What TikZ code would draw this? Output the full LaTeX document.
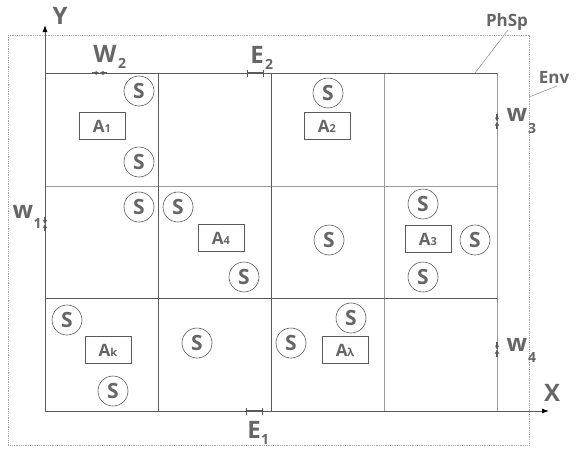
\documentclass[tikz,border=0pt]{standalone}
\usepackage{fontspec}
\setmainfont{Open Sans}
\usetikzlibrary{arrows.meta}
\definecolor{txt}{HTML}{666666}
\definecolor{linec}{HTML}{5A5A5A}
\definecolor{lightl}{HTML}{9A9A9A}
\definecolor{envc}{HTML}{A8A8A8}
\tikzset{
  lbl/.style={text=txt, font=\fontsize{24}{24}\selectfont\bfseries, inner sep=0pt},
  sublbl/.style={text=txt, font=\fontsize{14}{14}\selectfont\bfseries, inner sep=0pt},
  smalllbl/.style={text=txt, font=\fontsize{17}{17}\selectfont\bfseries, inner sep=0pt},
  scirc/.style={circle, draw=linec, line width=0.6pt, fill=white, minimum size=30pt, inner sep=0pt, text=txt, font=\fontsize{21}{21}\selectfont\bfseries},
  abox/.style={draw=linec, line width=0.6pt, fill=white, minimum width=46pt, minimum height=27pt, inner sep=0pt, text=txt, font=\fontsize{17}{17}\selectfont\bfseries},
  gridl/.style={draw=linec, line width=0.8pt},
  gridlight/.style={draw=lightl, line width=0.8pt},
  axisl/.style={draw=linec, line width=0.9pt, -{Latex[length=7pt,width=5pt,black]}},
  envbox/.style={draw=envc, line width=0.8pt, densely dotted},
  leader/.style={draw=lightl, line width=0.6pt},
  pinch/.style={draw=linec, line width=1.2pt, -{Triangle[length=4pt,width=4pt]}},
  barmark/.style={draw=linec, line width=1.8pt},
  barend/.style={draw=linec, line width=1pt},
}
\newcommand{\sub}[1]{{\fontsize{11}{11}\selectfont #1}}
\begin{document}
\begin{tikzpicture}[x=1pt,y=-1pt]
\useasboundingbox (0,0) rectangle (579,450);
% environment box
\draw[envbox] (8,35) rectangle (529,445);
% grid
\draw[gridlight] (45,186) -- (497,186);
\draw[gridlight] (384,73) -- (384,411);
\draw[gridlight] (497,73) -- (497,411);
\draw[gridl] (45,298) -- (497,298);
\draw[gridl] (158,73) -- (158,411);
\draw[gridl] (271,73) -- (271,411);
\draw[gridl] (45,73) -- (497,73);
% axes
\coordinate (O) at (45,411);
\coordinate (yend) at (45,25);
\coordinate (xend) at (549,411);
\draw[axisl] (O) -- (yend);
\draw[axisl] (O) -- (xend);
\node[lbl] (Y) at (60,16) {Y};
\node[lbl] (X) at (552,393) {X};
% circles S
\node[scirc] (s1) at (139,91) {S};
\node[scirc] (s2) at (139,162) {S};
\node[scirc] (s3) at (139,207) {S};
\node[scirc] (s4) at (178,207) {S};
\node[scirc] (s5) at (244,277) {S};
\node[scirc] (s6) at (329,240) {S};
\node[scirc] (s7) at (328,93) {S};
\node[scirc] (s8) at (423,204) {S};
\node[scirc] (s9) at (475,240) {S};
\node[scirc] (s10) at (423,277) {S};
\node[scirc] (s11) at (67,320) {S};
\node[scirc] (s12) at (113,391) {S};
\node[scirc] (s13) at (197,343) {S};
\node[scirc] (s14) at (291,343) {S};
\node[scirc] (s15) at (351,318) {S};
% boxes A
\node[abox] (a1) at (102,126) {A\sub{1}};
\node[abox] (a2) at (327,126) {A\sub{2}};
\node[abox] (a4) at (221,238) {A\sub{4}};
\node[abox] (a3) at (428,239) {A\sub{3}};
\node[abox] (ak) at (108,350) {A\sub{k}};
\node[abox] (al) at (345,350) {A\sub{λ}};
% W2 marker
\coordinate (w2a) at (92,73); \coordinate (w2b) at (107,73); \coordinate (w2m) at (99.5,73);
\draw[pinch] (w2a) -- (w2m);
\draw[pinch] (w2b) -- (w2m);
\node[lbl] (W2) at (105,54) {W};
\node[sublbl] (W2s) at (122,63) {2};
% E2 marker
\coordinate (e2a) at (247,73); \coordinate (e2b) at (263,73);
\draw[barmark] (e2a) -- (e2b);
\draw[barend] (247,69.5) -- (247,76.5);
\draw[barend] (263,69.5) -- (263,76.5);
\node[lbl] (E2) at (257,55) {E};
\node[sublbl] (E2s) at (269,64) {2};
% E1 marker
\coordinate (e1a) at (246,411); \coordinate (e1b) at (262,411);
\draw[barmark] (e1a) -- (e1b);
\draw[barend] (246,407.5) -- (246,414.5);
\draw[barend] (262,407.5) -- (262,414.5);
\node[lbl] (E1) at (254,430) {E};
\node[sublbl] (E1s) at (265,439) {1};
% W1 marker
\coordinate (w1a) at (45,217); \coordinate (w1b) at (45,231); \coordinate (w1m) at (45,224);
\draw[pinch] (w1a) -- (w1m);
\draw[pinch] (w1b) -- (w1m);
\node[lbl] (W1) at (23,212) {w};
\node[sublbl] (W1s) at (37.5,224) {1};
% W3 marker
\coordinate (w3a) at (497,114); \coordinate (w3b) at (497,129); \coordinate (w3m) at (497,121.5);
\draw[pinch] (w3a) -- (w3m);
\draw[pinch] (w3b) -- (w3m);
\node[lbl] (W3) at (517,115) {w};
\node[sublbl] (W3s) at (532,128) {3};
% W4 marker
\coordinate (w4a) at (497,342); \coordinate (w4b) at (497,357); \coordinate (w4m) at (497,349.5);
\draw[pinch] (w4a) -- (w4m);
\draw[pinch] (w4b) -- (w4m);
\node[lbl] (W4) at (517,345) {w};
\node[sublbl] (W4s) at (532,357) {4};
% PhSp and Env labels with leaders
\node[smalllbl] (phsp) at (507,22) {PhSp};
\coordinate (phspend) at (475,73);
\draw[leader] (phspend) -- (508,30);
\node[smalllbl] (env) at (554,77) {Env};
\coordinate (envend) at (529,97);
\draw[leader] (envend) -- (557,86);
\end{tikzpicture}
\end{document}
